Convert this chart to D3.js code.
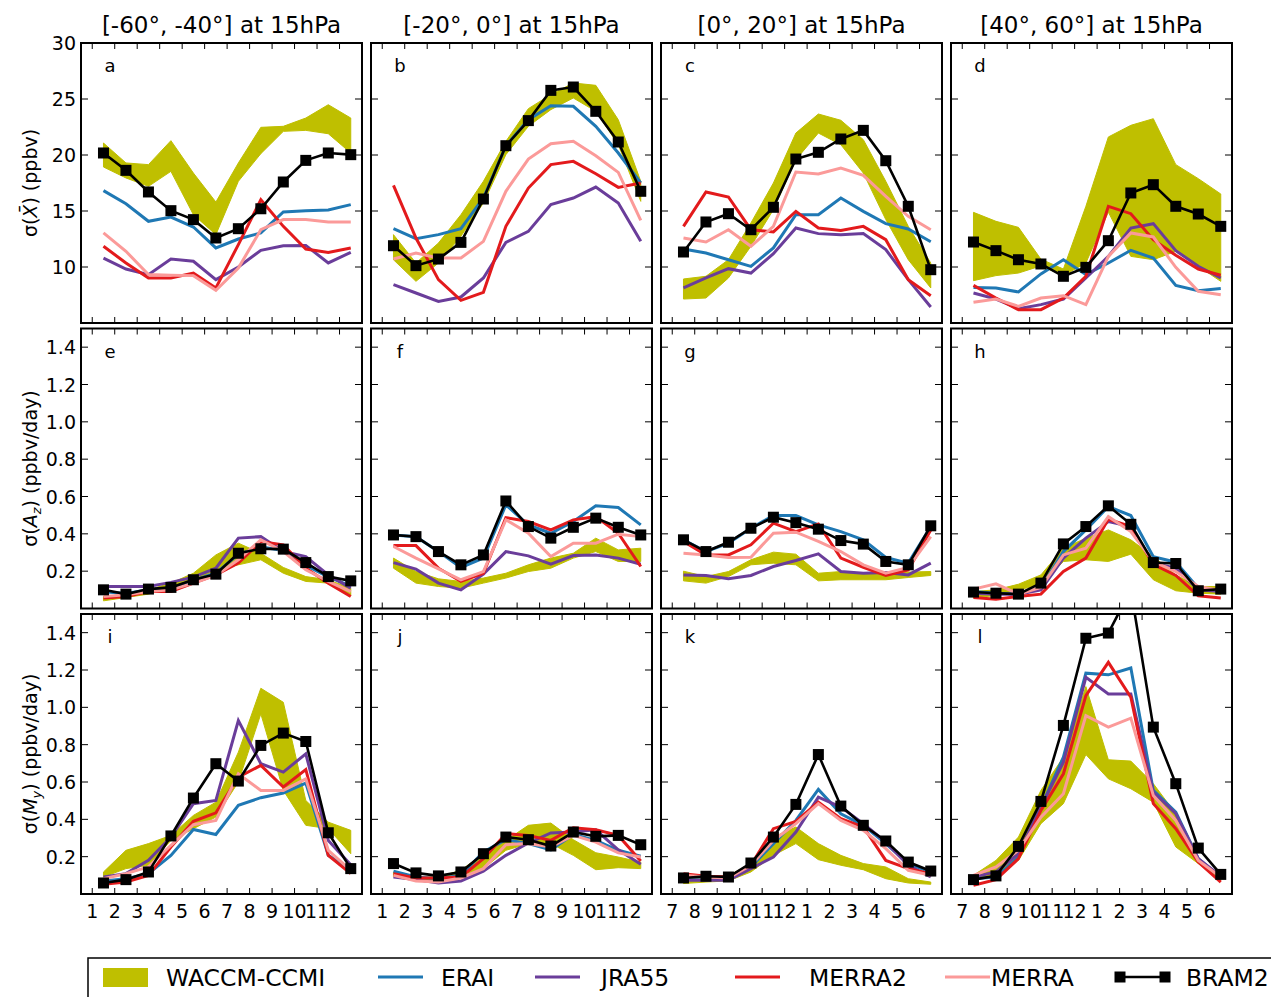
<!DOCTYPE html>
<html>
<head>
<meta charset="utf-8">
<script src="https://cdn.jsdelivr.net/npm/d3@7/dist/d3.min.js"></script>
<style>
  body { margin: 0; background: #fff; }
  svg { font-family: "DejaVu Sans", sans-serif; }
</style>
</head>
<body>
<svg id="chart" width="1271" height="997"></svg>
<script>
// ---- data, one row per panel a..l ----
const titles = ["[-60°, -40°] at 15hPa", "[-20°, 0°] at 15hPa", "[0°, 20°] at 15hPa", "[40°, 60°] at 15hPa"];
const letters = ["a", "b", "c", "d", "e", "f", "g", "h", "i", "j", "k", "l"];
const monthsJan = ["1", "2", "3", "4", "5", "6", "7", "8", "9", "10", "11", "12"];
const monthsJul = ["7", "8", "9", "10", "11", "12", "1", "2", "3", "4", "5", "6"];
const ticksX = [1, 2, 3, 4, 5, 6, 7, 8, 9, 10, 11, 12];
const ticksTop = [10, 15, 20, 25, 30];
const ticksRate = [0.2, 0.4, 0.6, 0.8, 1.0, 1.2, 1.4];
const seriesNames = ["ERAI", "JRA55", "MERRA2", "MERRA"];
const seriesColors = ["#1f78b4", "#6a3d9a", "#e31a1c", "#fb9a99"];

const waccmHi = [
  [21.07, 19.29, 19.14, 21.28, 18.39, 15.80, 19.29, 22.47, 22.56, 23.30, 24.49, 23.30],
  [12.89, 10.36, 12.14, 14.67, 17.65, 21.22, 24.14, 25.39, 26.43, 26.22, 23.15, 17.65],
  [8.93, 9.17, 10.65, 13.93, 17.50, 21.96, 23.66, 23.10, 21.37, 17.65, 13.63, 10.36],
  [14.88, 14.08, 13.54, 10.70, 9.82, 15.42, 21.61, 22.65, 23.24, 19.14, 17.89, 16.52],
  [0.064, 0.077, 0.100, 0.136, 0.189, 0.287, 0.350, 0.296, 0.220, 0.171, 0.154, 0.109],
  [0.270, 0.198, 0.159, 0.145, 0.163, 0.189, 0.234, 0.270, 0.296, 0.377, 0.314, 0.323],
  [0.200, 0.171, 0.198, 0.261, 0.302, 0.291, 0.189, 0.198, 0.189, 0.189, 0.195, 0.198],
  [0.091, 0.100, 0.130, 0.180, 0.323, 0.377, 0.421, 0.368, 0.278, 0.180, 0.118, 0.118],
  [0.118, 0.234, 0.270, 0.314, 0.421, 0.492, 0.760, 1.102, 1.027, 0.501, 0.385, 0.341],
  [0.118, 0.091, 0.091, 0.127, 0.216, 0.287, 0.368, 0.380, 0.291, 0.221, 0.198, 0.171],
  [0.082, 0.091, 0.100, 0.159, 0.305, 0.359, 0.270, 0.207, 0.163, 0.145, 0.082, 0.064],
  [0.100, 0.180, 0.305, 0.555, 0.733, 1.111, 0.719, 0.712, 0.591, 0.430, 0.189, 0.100]
];
const waccmLo = [
  [18.93, 17.95, 17.20, 18.54, 14.67, 12.89, 17.65, 20.12, 22.11, 22.20, 21.90, 20.18],
  [10.65, 8.72, 10.36, 12.74, 15.71, 20.03, 22.56, 24.05, 25.09, 23.90, 20.92, 15.86],
  [7.14, 7.23, 9.02, 11.85, 15.12, 19.58, 21.96, 20.92, 18.39, 14.23, 10.65, 8.13],
  [8.78, 9.23, 9.46, 10.10, 9.23, 10.36, 14.90, 10.95, 10.65, 11.40, 10.06, 8.72],
  [0.041, 0.059, 0.077, 0.109, 0.145, 0.207, 0.234, 0.261, 0.189, 0.145, 0.136, 0.070],
  [0.216, 0.136, 0.118, 0.109, 0.136, 0.163, 0.198, 0.216, 0.270, 0.305, 0.252, 0.252],
  [0.148, 0.136, 0.171, 0.234, 0.243, 0.234, 0.148, 0.154, 0.154, 0.154, 0.166, 0.177],
  [0.056, 0.070, 0.100, 0.127, 0.252, 0.261, 0.252, 0.291, 0.154, 0.095, 0.082, 0.077],
  [0.091, 0.136, 0.154, 0.287, 0.350, 0.412, 0.600, 0.965, 0.555, 0.368, 0.350, 0.216],
  [0.091, 0.070, 0.064, 0.091, 0.136, 0.234, 0.270, 0.270, 0.207, 0.130, 0.141, 0.136],
  [0.056, 0.064, 0.070, 0.118, 0.207, 0.270, 0.184, 0.154, 0.130, 0.082, 0.059, 0.052],
  [0.073, 0.109, 0.180, 0.377, 0.484, 0.747, 0.617, 0.564, 0.492, 0.252, 0.163, 0.073]
];
const erai = [
  [16.82, 15.65, 14.08, 14.46, 13.57, 11.70, 12.50, 13.04, 14.91, 15.03, 15.09, 15.57],
  [13.42, 12.53, 12.89, 13.42, 16.16, 20.83, 23.15, 24.40, 24.35, 22.56, 20.18, 17.50],
  [11.61, 11.25, 10.65, 10.06, 11.70, 14.67, 14.67, 16.16, 14.97, 13.87, 13.39, 12.26],
  [8.18, 8.13, 7.77, 9.38, 10.65, 9.32, 10.36, 11.49, 10.80, 8.36, 7.89, 8.07],
  [0.09, 0.08, 0.10, 0.11, 0.15, 0.19, 0.29, 0.33, 0.31, 0.23, 0.17, 0.12],
  [0.394, 0.385, 0.305, 0.220, 0.270, 0.555, 0.448, 0.403, 0.466, 0.550, 0.541, 0.448],
  [0.368, 0.305, 0.350, 0.430, 0.498, 0.498, 0.448, 0.412, 0.368, 0.273, 0.243, 0.439],
  [0.091, 0.082, 0.077, 0.109, 0.305, 0.421, 0.546, 0.498, 0.278, 0.248, 0.109, 0.091],
  [0.070, 0.082, 0.109, 0.207, 0.346, 0.319, 0.475, 0.516, 0.541, 0.594, 0.207, 0.127],
  [0.122, 0.091, 0.082, 0.100, 0.225, 0.291, 0.270, 0.237, 0.319, 0.287, 0.234, 0.202],
  [0.088, 0.091, 0.091, 0.145, 0.270, 0.394, 0.560, 0.430, 0.368, 0.270, 0.163, 0.118],
  [0.082, 0.091, 0.198, 0.466, 0.733, 1.183, 1.174, 1.211, 0.555, 0.439, 0.189, 0.091]
];
const jra55 = [
  [10.80, 9.82, 9.32, 10.71, 10.51, 8.87, 10.00, 11.49, 11.90, 11.93, 10.36, 11.31],
  [8.42, 7.68, 6.93, 7.32, 9.02, 12.20, 13.18, 15.57, 16.16, 17.14, 15.71, 12.29],
  [8.13, 9.02, 9.85, 9.46, 11.19, 13.48, 12.98, 12.89, 12.98, 11.55, 8.87, 6.43],
  [7.68, 7.14, 6.28, 6.64, 7.14, 9.02, 10.95, 13.48, 13.87, 11.46, 10.06, 9.02],
  [0.118, 0.118, 0.118, 0.140, 0.168, 0.216, 0.377, 0.385, 0.305, 0.278, 0.180, 0.109],
  [0.246, 0.211, 0.136, 0.100, 0.184, 0.305, 0.282, 0.237, 0.284, 0.287, 0.270, 0.237],
  [0.180, 0.177, 0.159, 0.177, 0.225, 0.257, 0.293, 0.198, 0.189, 0.193, 0.180, 0.243],
  [0.082, 0.077, 0.077, 0.100, 0.270, 0.377, 0.466, 0.439, 0.243, 0.216, 0.100, 0.091],
  [0.091, 0.109, 0.180, 0.305, 0.484, 0.501, 0.929, 0.698, 0.653, 0.751, 0.287, 0.157],
  [0.091, 0.077, 0.059, 0.070, 0.122, 0.207, 0.273, 0.327, 0.332, 0.344, 0.237, 0.159],
  [0.073, 0.073, 0.073, 0.136, 0.198, 0.332, 0.519, 0.466, 0.377, 0.278, 0.154, 0.091],
  [0.091, 0.118, 0.216, 0.466, 0.706, 1.161, 1.072, 1.072, 0.546, 0.430, 0.189, 0.095]
];
const merra2 = [
  [11.85, 10.36, 9.02, 9.02, 9.46, 8.13, 12.00, 16.01, 13.63, 11.60, 11.30, 11.70],
  [17.29, 12.59, 8.87, 7.02, 7.74, 13.63, 17.05, 19.14, 19.43, 18.33, 17.11, 17.50],
  [13.63, 16.70, 16.25, 13.33, 13.13, 14.97, 13.48, 13.27, 13.63, 12.44, 8.87, 7.44],
  [8.36, 7.23, 6.19, 6.19, 7.23, 9.17, 15.42, 14.76, 12.44, 11.04, 9.82, 9.26],
  [0.056, 0.064, 0.091, 0.091, 0.136, 0.180, 0.243, 0.359, 0.341, 0.216, 0.136, 0.064],
  [0.337, 0.337, 0.216, 0.145, 0.189, 0.487, 0.466, 0.421, 0.475, 0.492, 0.403, 0.225],
  [0.359, 0.287, 0.287, 0.341, 0.457, 0.412, 0.453, 0.270, 0.221, 0.177, 0.207, 0.421],
  [0.059, 0.050, 0.064, 0.077, 0.198, 0.270, 0.478, 0.439, 0.237, 0.177, 0.068, 0.056],
  [0.052, 0.064, 0.100, 0.252, 0.389, 0.435, 0.626, 0.689, 0.573, 0.667, 0.207, 0.109],
  [0.109, 0.086, 0.086, 0.091, 0.189, 0.323, 0.314, 0.287, 0.355, 0.344, 0.314, 0.177],
  [0.109, 0.095, 0.091, 0.154, 0.350, 0.389, 0.492, 0.403, 0.359, 0.180, 0.136, 0.109],
  [0.047, 0.077, 0.189, 0.448, 0.644, 1.063, 1.241, 1.054, 0.484, 0.350, 0.171, 0.064]
];
const merra = [
  [13.04, 11.40, 9.32, 9.26, 9.23, 7.92, 9.91, 13.33, 14.23, 14.23, 14.02, 14.02],
  [10.71, 11.25, 10.80, 10.80, 12.29, 16.76, 19.64, 21.01, 21.22, 19.94, 18.45, 14.17],
  [12.59, 12.23, 13.33, 11.85, 13.63, 18.48, 18.30, 18.84, 18.18, 16.31, 14.52, 13.33],
  [6.85, 7.14, 6.49, 7.23, 7.44, 6.64, 10.95, 13.04, 12.68, 9.97, 7.83, 7.53],
  [0.064, 0.073, 0.091, 0.100, 0.136, 0.177, 0.261, 0.368, 0.305, 0.207, 0.145, 0.091],
  [0.332, 0.270, 0.212, 0.154, 0.198, 0.475, 0.403, 0.278, 0.350, 0.350, 0.398, 0.385],
  [0.296, 0.287, 0.273, 0.275, 0.403, 0.409, 0.359, 0.305, 0.234, 0.189, 0.220, 0.385],
  [0.104, 0.132, 0.077, 0.113, 0.287, 0.323, 0.492, 0.412, 0.252, 0.198, 0.118, 0.097],
  [0.082, 0.109, 0.145, 0.261, 0.371, 0.394, 0.644, 0.555, 0.555, 0.617, 0.234, 0.127],
  [0.100, 0.070, 0.064, 0.086, 0.136, 0.264, 0.270, 0.252, 0.314, 0.278, 0.220, 0.198],
  [0.100, 0.091, 0.086, 0.154, 0.287, 0.377, 0.484, 0.394, 0.341, 0.243, 0.127, 0.100],
  [0.100, 0.145, 0.234, 0.412, 0.537, 0.956, 0.894, 0.942, 0.528, 0.394, 0.180, 0.091]
];
const bram2 = [
  [20.18, 18.63, 16.70, 15.03, 14.23, 12.59, 13.42, 15.20, 17.59, 19.52, 20.18, 20.03],
  [11.90, 10.12, 10.71, 12.20, 16.07, 20.83, 23.07, 25.77, 26.07, 23.90, 21.16, 16.76],
  [11.34, 14.02, 14.76, 13.33, 15.33, 19.64, 20.24, 21.43, 22.20, 19.49, 15.42, 9.76],
  [12.23, 11.46, 10.65, 10.27, 9.17, 9.97, 12.35, 16.61, 17.35, 15.42, 14.73, 13.63],
  [0.100, 0.077, 0.104, 0.113, 0.154, 0.184, 0.296, 0.320, 0.318, 0.246, 0.171, 0.148],
  [0.394, 0.385, 0.305, 0.234, 0.287, 0.576, 0.439, 0.377, 0.435, 0.484, 0.435, 0.394],
  [0.368, 0.305, 0.355, 0.430, 0.489, 0.460, 0.425, 0.364, 0.345, 0.252, 0.234, 0.443],
  [0.088, 0.082, 0.077, 0.136, 0.346, 0.439, 0.550, 0.451, 0.246, 0.241, 0.095, 0.104],
  [0.059, 0.077, 0.118, 0.311, 0.514, 0.698, 0.605, 0.796, 0.862, 0.817, 0.328, 0.136],
  [0.163, 0.113, 0.097, 0.118, 0.216, 0.305, 0.291, 0.257, 0.332, 0.309, 0.314, 0.264],
  [0.086, 0.095, 0.091, 0.166, 0.305, 0.480, 0.747, 0.471, 0.368, 0.284, 0.171, 0.123],
  [0.077, 0.097, 0.255, 0.496, 0.903, 1.370, 1.398, 1.630, 0.894, 0.591, 0.246, 0.105]
];
const others = [erai, jra55, merra2, merra];

// ---- layout ----
const colLeft = [81, 371, 661, 951];
const rowTop = [43, 328.5, 614];
const pw = 281, ph = 280;
const olive = "#bfbf00";

const svg = d3.select("#chart");
const defs = svg.append("defs");

for (let p = 0; p < 12; p++) {
  const r = Math.floor(p / 4), c = p % 4;
  const L = colLeft[c], T = rowTop[r];
  const x = d3.scaleLinear().domain([0.5, 13]).range([L, L + pw]);
  const y = r === 0
    ? d3.scaleLinear().domain([5, 30]).range([T + ph, T])
    : d3.scaleLinear().domain([0, 1.5]).range([T + ph, T]);
  const xs = d3.range(12).map(i => i + 1.5);

  defs.append("clipPath").attr("id", "clip" + p)
    .append("rect").attr("x", L).attr("y", T).attr("width", pw).attr("height", ph);

  const g = svg.append("g").attr("clip-path", `url(#clip${p})`);

  const area = d3.area()
    .x((d, i) => x(xs[i]))
    .y0(d => y(d[0]))
    .y1(d => y(d[1]));
  g.append("path")
    .datum(waccmLo[p].map((v, i) => [v, waccmHi[p][i]]))
    .attr("d", area).attr("fill", olive).attr("stroke", olive).attr("stroke-width", 1);

  const line = d3.line().x((d, i) => x(xs[i])).y(d => y(d));
  others.forEach((s, k) => {
    g.append("path").datum(s[p]).attr("d", line)
      .attr("fill", "none").attr("stroke", seriesColors[k]).attr("stroke-width", 3);
  });

  g.append("path").datum(bram2[p]).attr("d", line)
    .attr("fill", "none").attr("stroke", "#000").attr("stroke-width", 2.6);
  g.selectAll("rect.m").data(bram2[p]).enter().append("rect")
    .attr("x", (d, i) => x(xs[i]) - 5.5).attr("y", d => y(d) - 5.5)
    .attr("width", 11).attr("height", 11).attr("fill", "#000");

  // ticks (inward, all four sides)
  const tg = svg.append("g").attr("stroke", "#000").attr("stroke-width", 1);
  ticksX.forEach(t => {
    tg.append("line").attr("x1", x(t)).attr("x2", x(t)).attr("y1", T + ph).attr("y2", T + ph - 6);
    tg.append("line").attr("x1", x(t)).attr("x2", x(t)).attr("y1", T).attr("y2", T + 6);
  });
  const yt = r === 0 ? ticksTop : ticksRate;
  yt.forEach(t => {
    tg.append("line").attr("x1", L).attr("x2", L + 7).attr("y1", y(t)).attr("y2", y(t));
    tg.append("line").attr("x1", L + pw).attr("x2", L + pw - 7).attr("y1", y(t)).attr("y2", y(t));
  });

  svg.append("rect").attr("x", L).attr("y", T).attr("width", pw).attr("height", ph)
    .attr("fill", "none").attr("stroke", "#000").attr("stroke-width", 2);

  svg.append("text").attr("x", L + 29).attr("y", T + 29)
    .attr("font-size", 18).attr("text-anchor", "middle").text(letters[p]);

  if (c === 0) {
    yt.forEach(t => {
      svg.append("text").attr("x", L - 5).attr("y", y(t) + 7)
        .attr("text-anchor", "end").attr("font-size", 19)
        .text(r === 0 ? d3.format("d")(t) : d3.format(".1f")(t));
    });
  }
  if (r === 2) {
    const labs = c < 2 ? monthsJan : monthsJul;
    ticksX.forEach((t, i) => {
      svg.append("text").attr("x", x(t)).attr("y", T + ph + 24)
        .attr("text-anchor", "middle").attr("font-size", 19).text(labs[i]);
    });
  }
  if (r === 0) {
    svg.append("text").attr("x", L + pw / 2).attr("y", 33)
      .attr("text-anchor", "middle").attr("font-size", 23).text(titles[c]);
  }
}

// y axis labels
const yl = [
  { t: rowTop[0] + ph / 2, parts: [["σ(", ""], ["X̄", "i"], [") (ppbv)", ""]] },
  { t: rowTop[1] + ph / 2, parts: [["σ(", ""], ["A", "i"], ["z", "s"], [") (ppbv/day)", ""]] },
  { t: rowTop[2] + ph / 2, parts: [["σ(", ""], ["M", "i"], ["y", "s"], [") (ppbv/day)", ""]] }
];
yl.forEach(d => {
  const tx = svg.append("text").attr("transform", `translate(37,${d.t}) rotate(-90)`)
    .attr("text-anchor", "middle").attr("font-size", 19);
  const hasSub = d.parts.some(q => q[1] === "s");
  d.parts.forEach(([s, k]) => {
    const ts = tx.append("tspan").text(s);
    if (k === "i") ts.attr("font-style", "italic");
    if (k === "s") ts.attr("font-style", "italic").attr("font-size", 13).attr("dy", 4);
    if (s.startsWith(")") && hasSub) ts.attr("dy", -4);
  });
});

// legend
const lg = svg.append("g");
lg.append("rect").attr("x", 88).attr("y", 958).attr("width", 1200).attr("height", 60)
  .attr("fill", "#fff").attr("stroke", "#000").attr("stroke-width", 1.5);
lg.append("rect").attr("x", 103).attr("y", 968).attr("width", 45).attr("height", 19).attr("fill", olive);
lg.append("text").attr("x", 166).attr("y", 986).attr("font-size", 23.5).text("WACCM-CCMI");
const legX = [378, 535, 735, 945];
const legTx = [441, 601, 809, 991];
seriesNames.forEach((n, k) => {
  lg.append("line").attr("x1", legX[k]).attr("x2", legX[k] + 45).attr("y1", 977).attr("y2", 977)
    .attr("stroke", seriesColors[k]).attr("stroke-width", 3);
  lg.append("text").attr("x", legTx[k]).attr("y", 986).attr("font-size", 23.5).text(n);
});
lg.append("line").attr("x1", 1120).attr("x2", 1165).attr("y1", 977).attr("y2", 977)
  .attr("stroke", "#000").attr("stroke-width", 2.6);
[1120, 1165].forEach(xx => lg.append("rect").attr("x", xx - 5.5).attr("y", 971.5)
  .attr("width", 11).attr("height", 11).attr("fill", "#000"));
lg.append("text").attr("x", 1186).attr("y", 986).attr("font-size", 23.5).text("BRAM2");
</script>
</body>
</html>
